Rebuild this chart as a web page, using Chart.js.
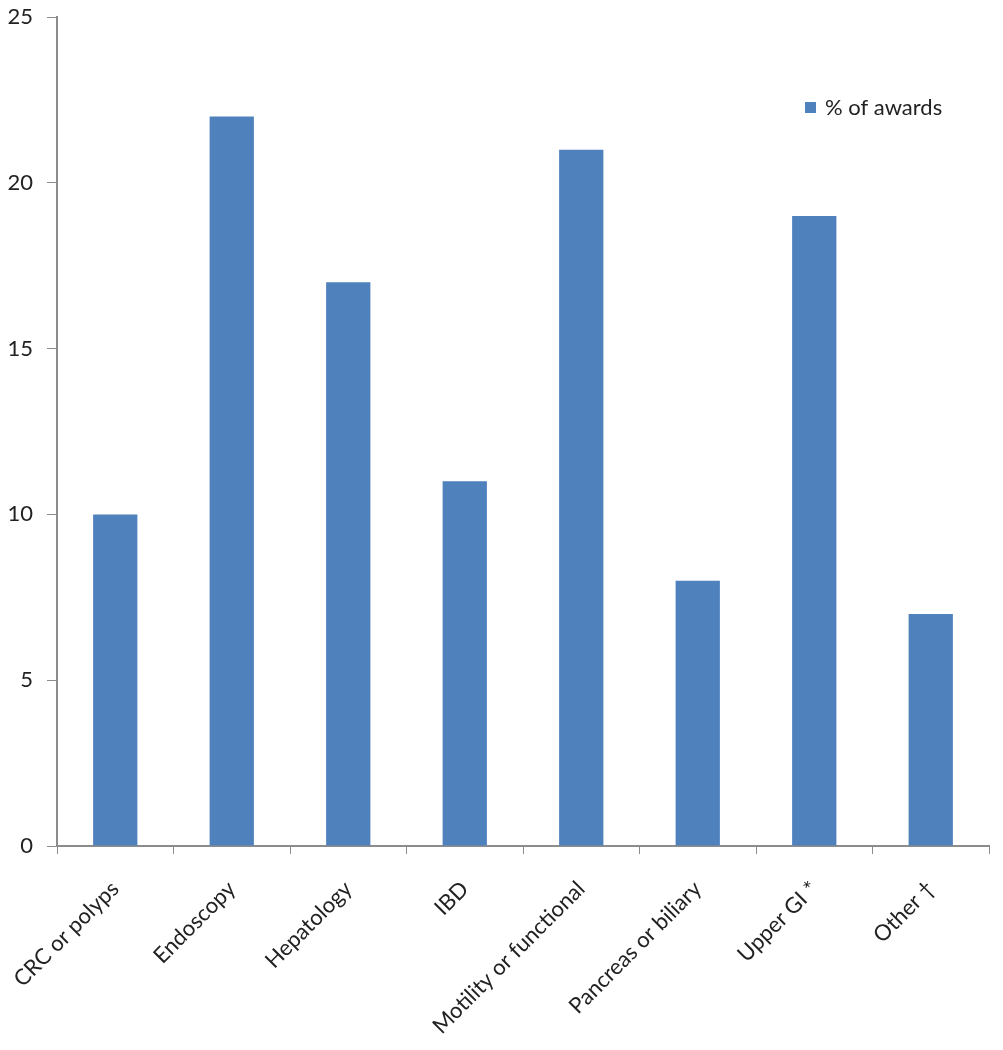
<!DOCTYPE html>
<html>
<head>
<meta charset="utf-8">
<script src="https://cdn.jsdelivr.net/npm/chart.js@4.4.0/dist/chart.umd.min.js"></script>
<style>
  html, body { margin: 0; padding: 0; background: #fff; }
  #wrap { width: 1003px; height: 1050px; }
</style>
</head>
<body>
<div id="wrap"><canvas id="awardsChart" width="1003" height="1050"></canvas></div>
<script>
// categories and values
var categories = ['CRC or polyps', 'Endoscopy', 'Hepatology', 'IBD', 'Motility or functional', 'Pancreas or biliary', 'Upper GI *', 'Other \u2020'];
var awards = [10, 22, 17, 11, 21, 8, 19, 7];
var seriesName = '% of awards';
var yTicks = [0, 5, 10, 15, 20, 25];

var barColor = '#4F81BD';
var axisColor = '#8c8c8c';

// legend drawn inside the plot, top right
var insideLegend = {
    id: 'insideLegend',
    afterDraw: function(chart) {
        var ctx = chart.ctx;
        var area = chart.chartArea;
        var x = area.right - 184;
        var y = area.top + 91;
        ctx.save();
        ctx.fillStyle = barColor;
        ctx.fillRect(x, y - 6, 11, 11);
        ctx.fillStyle = '#222';
        ctx.font = '22px Lato';
        ctx.textBaseline = 'middle';
        ctx.fillText(seriesName, x + 20, y);
        ctx.restore();
    }
};

var ctx = document.getElementById('awardsChart').getContext('2d');
var awardsChart = new Chart(ctx, {
    type: 'bar',
    data: {
        labels: categories,
        datasets: [{
            label: seriesName,
            data: awards,
            backgroundColor: barColor,
            borderWidth: 0,
            barPercentage: 0.38,
            categoryPercentage: 1
        }]
    },
    options: {
        responsive: false,
        animation: false,
        layout: { padding: { top: 17, right: 14, left: 0, bottom: 0 } },
        plugins: {
            legend: { display: false },
            tooltip: { enabled: false }
        },
        scales: {
            x: {
                offset: true,
                grid: {
                    offset: true,
                    drawOnChartArea: false,
                    tickLength: 8,
                    color: axisColor
                },
                border: { color: axisColor, width: 2 },
                ticks: {
                    color: '#222',
                    font: { family: 'Lato', size: 22 },
                    maxRotation: 45,
                    minRotation: 45,
                    padding: 22
                },
                afterFit: function(scale) {
                    scale.height = 204;
                    scale.paddingLeft = 0;
                    scale.paddingRight = 0;
                }
            },
            y: {
                min: 0,
                max: 25,
                afterBuildTicks: function(scale) {
                    scale.ticks = yTicks.map(function(v) { return { value: v }; });
                },
                grid: {
                    drawOnChartArea: false,
                    tickLength: 10,
                    color: axisColor
                },
                border: { color: axisColor, width: 2 },
                ticks: {
                    color: '#222',
                    font: { family: 'Lato', size: 22 },
                    padding: 14
                },
                afterFit: function(scale) {
                    scale.width = 57;
                    scale.paddingTop = 0;
                    scale.paddingBottom = 0;
                }
            }
        }
    },
    plugins: [insideLegend]
});
</script>
</body>
</html>
